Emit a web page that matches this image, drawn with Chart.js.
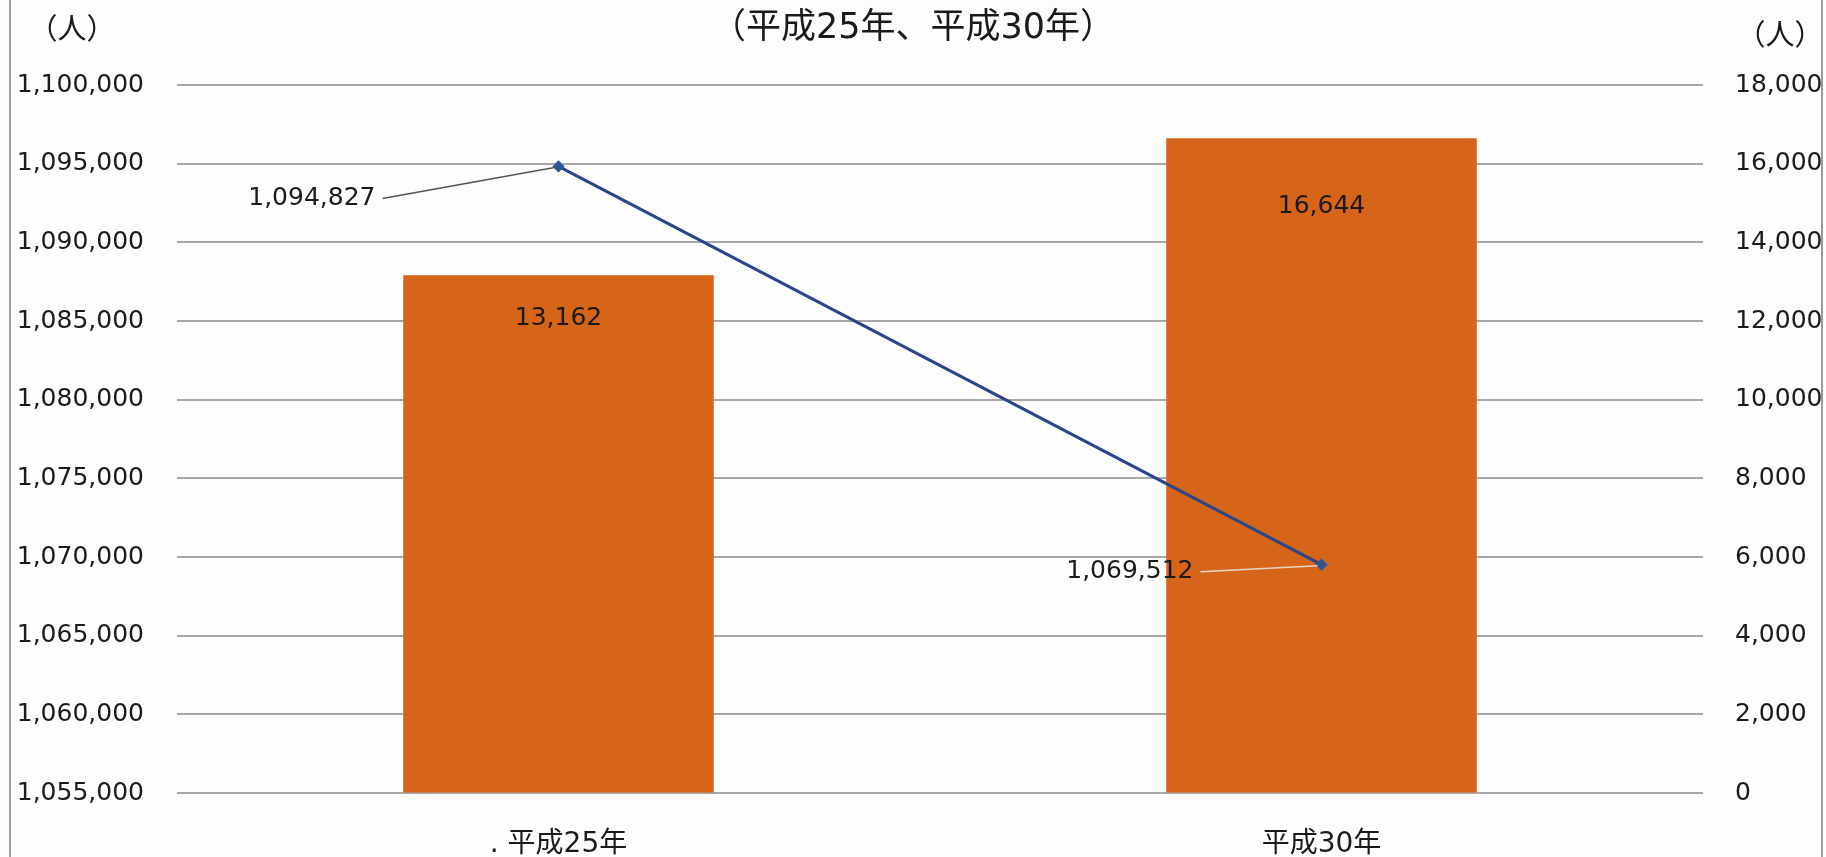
<!DOCTYPE html>
<html>
<head>
<meta charset="utf-8">
<script src="https://cdn.jsdelivr.net/npm/chart.js@4/dist/chart.umd.min.js"></script>
<style>
  html, body { margin: 0; padding: 0; background: #fdfdfd; }
  #wrap { width: 1826px; height: 857px; }
</style>
</head>
<body>
<div id="wrap"><canvas id="c" width="1826" height="857"></canvas></div>
<script>
// ---- data ----
const categories = ['. 平成25年', '平成30年'];
const barValues = [13162, 16644];        // right axis
const lineValues = [1094827, 1069512];   // left axis
const leftTicks = { min: 1055000, max: 1100000, step: 5000 };
const rightTicks = { min: 0, max: 18000, step: 2000 };
const titleText = '（平成25年、平成30年）';
const unitText = '（人）';

// ---- styles / offsets ----
const FONT = "'DejaVu Sans', 'Noto Sans CJK JP', sans-serif";
const TEXT = '#1a1a1a';
const barLabelOffsets = [43, 68];
const lineLabelOffsets = [{dx: -183, dy: 32, lead: '#555555'}, {dx: -128, dy: 7, lead: '#e6d6c6'}];

const fmt = v => Number(v).toLocaleString('en-US');

const decor = {
  id: 'decor',
  beforeDraw(chart) {
    const ctx = chart.ctx;
    ctx.save();
    ctx.fillStyle = '#fdfdfd';
    ctx.fillRect(0, 0, chart.width, chart.height);
    ctx.strokeStyle = '#9a9a9a';
    ctx.lineWidth = 2;
    ctx.beginPath();
    ctx.moveTo(10, 0); ctx.lineTo(10, chart.height);
    ctx.moveTo(1822, 0); ctx.lineTo(1822, chart.height);
    ctx.stroke();
    ctx.restore();
  },
  afterDraw(chart) {
    const ctx = chart.ctx;
    ctx.save();
    ctx.fillStyle = TEXT;
    ctx.font = "29px 'Noto Sans CJK JP'";
    ctx.textBaseline = 'middle';
    ctx.textAlign = 'center';
    ctx.fillText(unitText, 72, 28);
    ctx.fillText(unitText, 1780, 34);
    ctx.restore();
  },
  afterDatasetsDraw(chart) {
    const ctx = chart.ctx;
    ctx.save();
    ctx.font = "25px " + FONT;
    ctx.fillStyle = TEXT;
    ctx.textBaseline = 'middle';
    const barMeta = chart.getDatasetMeta(1);
    barMeta.data.forEach((el, i) => {
      ctx.textAlign = 'center';
      ctx.fillText(fmt(barValues[i]), el.x, el.y + barLabelOffsets[i]);
    });
    const lineMeta = chart.getDatasetMeta(0);
    lineMeta.data.forEach((el, i) => {
      const o = lineLabelOffsets[i];
      const rx = el.x + o.dx, ry = el.y + o.dy;
      ctx.textAlign = 'right';
      ctx.fillStyle = TEXT;
      ctx.fillText(fmt(lineValues[i]), rx, ry);
      ctx.strokeStyle = o.lead;
      ctx.lineWidth = 1.5;
      ctx.beginPath();
      ctx.moveTo(rx + 7, ry);
      ctx.lineTo(el.x - 4, el.y + 1);
      ctx.stroke();
    });
    ctx.restore();
  }
};

new Chart(document.getElementById('c'), {
  data: {
    labels: categories,
    datasets: [
      {
        type: 'line',
        data: lineValues,
        yAxisID: 'y',
        borderColor: '#28468a',
        borderWidth: 3,
        pointStyle: 'rectRot',
        pointRadius: 4,
        pointBackgroundColor: '#2f5597',
        pointBorderColor: '#2f5597',
        tension: 0,
        order: 0
      },
      {
        type: 'bar',
        data: barValues,
        yAxisID: 'y1',
        backgroundColor: '#d6651a',
        categoryPercentage: 1.0,
        barPercentage: 0.407,
        order: 1
      }
    ]
  },
  options: {
    responsive: false,
    animation: false,
    events: [],
    layout: { padding: 0 },
    plugins: {
      legend: { display: false },
      tooltip: { enabled: false },
      title: {
        display: true,
        text: titleText,
        color: TEXT,
        font: { family: FONT, size: 35, weight: 'normal', lineHeight: 1.2 },
        padding: { top: 8, bottom: 35 }
      }
    },
    scales: {
      x: {
        grid: { display: false },
        border: { display: false },
        ticks: { color: TEXT, font: { family: FONT, size: 28 }, padding: 27 },
        afterFit(s) { s.height = 64; }
      },
      y: {
        position: 'left',
        min: leftTicks.min, max: leftTicks.max,
        grid: { color: '#a8a8a8', lineWidth: 2, drawTicks: false },
        border: { display: false },
        ticks: { stepSize: leftTicks.step, color: TEXT, font: { family: FONT, size: 25 }, padding: 33, callback: v => fmt(v) },
        afterFit(s) { s.width = 177; }
      },
      y1: {
        position: 'right',
        min: rightTicks.min, max: rightTicks.max,
        grid: { drawOnChartArea: false, drawTicks: false },
        border: { display: false },
        ticks: { stepSize: rightTicks.step, color: TEXT, font: { family: FONT, size: 25 }, padding: 32, callback: v => fmt(v) },
        afterFit(s) { s.width = 123; }
      }
    }
  },
  plugins: [decor]
});
</script>
</body>
</html>
